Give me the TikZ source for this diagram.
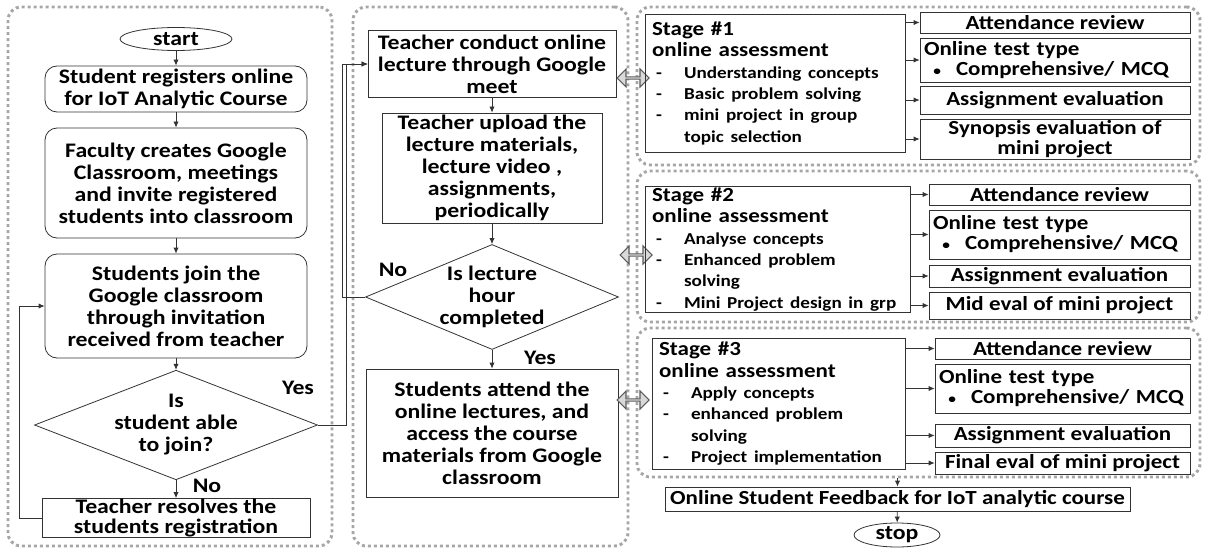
\documentclass[tikz,border=0pt]{standalone}
\usepackage{fontspec}
\setmainfont{Carlito}[FakeStretch=1.15]
\usetikzlibrary{arrows.meta, positioning, shapes.geometric, shapes.arrows, calc}
\definecolor{cline}{HTML}{333333}
\definecolor{cdot}{HTML}{A6A6A6}
\definecolor{cfill}{HTML}{D9D9D9}
\newcommand\itemfont{\fontsize{12.5}{16}\selectfont}
\newcommand\dashitem[1]{{\itemfont\makebox[24pt][l]{\hspace{3pt}-}\mbox{#1}}}
\newcommand\itemcont[1]{{\itemfont\hspace*{24pt}\mbox{#1}}}
\newcommand\bulletline[1]{\hspace*{7pt}\makebox[17pt][l]{\fontsize{10}{10}\selectfont •}\mbox{#1}}
\tikzset{
  every picture/.style={x=0.75pt, y=-0.75pt, line width=0.6pt},
  sz/.style 2 args={minimum width=#1*0.75pt, minimum height=#2*0.75pt},
  txt/.style={font=\fontsize{15.5}{16.5}\selectfont\bfseries},
  rbox/.style={draw=cline, txt, rounded corners=9pt, align=center, inner sep=0pt},
  box/.style={draw=cline, txt, align=center, inner sep=0pt},
  term/.style={draw=cline, ellipse, txt, inner sep=0pt},
  decision/.style={draw=cline, diamond, txt, align=center, inner xsep=-12pt, inner ysep=-16pt},
  stagebox/.style={draw=cline, font=\fontsize{15}{16}\selectfont\bfseries, align=left, anchor=north west, inner ysep=0pt, inner xsep=5pt},
  evalbox/.style={draw=cline, font=\fontsize{15}{15}\selectfont\bfseries, align=center, inner sep=0pt},
  testbox/.style={evalbox, align=left, inner xsep=3pt},
  panel/.style={draw=cdot, line width=2.2pt, dash pattern=on 2.2pt off 2.3pt, rounded corners=10pt},
  arr/.style={-{Latex[length=4.5pt, width=4pt]}, draw=cline, line width=0.6pt},
  twoway/.style={double arrow, draw=cline!80, fill=cfill, line width=0.8pt, double arrow head extend=3pt, inner sep=0pt},
  lbl/.style={txt},
}
\begin{document}
\begin{tikzpicture}
  \useasboundingbox (0,0) rectangle (1205,549);
  % dotted panels
  \node[panel, sz={324}{539}] (pleft) at (170,276.5) {};
  \node[panel, sz={275}{539}] (pmid) at (490.5,276.5) {};
  \node[panel, sz={563}{158}] (p1) at (918.5,86) {};
  \node[panel, sz={563}{151}] (p2) at (918.5,246.5) {};
  \node[panel, sz={563}{149}] (p3) at (918.5,402.5) {};

  % registration column
  \node[term, sz={112}{23}] (start) at (176,39) {start};
  \node[rbox, sz={262}{46}] (reg) at (176,89) {Student registers online\\for IoT Analytic Course};
  \node[rbox, sz={262}{110}] (fac) at (176,183) {Faculty creates Google\\Classroom, meetings\\and invite registered\\students into classroom};
  \node[rbox, sz={262}{104}] (join) at (176,306) {Students join the\\Google classroom\\through invitation\\received from teacher};
  \node[decision, sz={283}{106}] (able) at (176,425) {Is\\student able\\to join?};
  \node[box, sz={268}{39}, font=\fontsize{15.5}{15}\selectfont\bfseries] (fix) at (176,518) {Teacher resolves the\\students registration};
  \node[lbl] (yes1) at (298,388) {Yes};
  \node[lbl] (no1) at (207,486) {No};

  \draw[arr] (start) -- (reg);
  \draw[arr] (reg) -- (fac);
  \draw[arr] (fac) -- (join);
  \draw[arr] (join) -- (able);
  \draw[arr] (able) -- (fix);
  \draw[arr] (fix.west) -- ++(-22,0) |- (join.west);

  % lecture column
  \node[box, sz={248}{67}] (meet) at (492,64) {Teacher conduct online\\lecture through Google\\meet};
  \node[box, sz={220}{110}] (upload) at (492,168) {Teacher upload the\\lecture materials,\\lecture video ,\\assignments,\\periodically};
  \node[decision, sz={253}{105}] (hour) at (492,297) {Is lecture\\hour\\completed};
  \node[box, sz={252}{128}] (attend) at (492,433) {Students attend the\\online lectures, and\\access the course\\materials from Google\\classroom};
  \node[lbl] (no2) at (393,270) {No};
  \node[lbl] (yes2) at (540,358) {Yes};

  \draw[arr] (meet) -- (upload);
  \draw[arr] (upload) -- (hour);
  \draw[arr] (hour) -- (attend);
  \draw[arr] (hour.west) -- ++(-23,0) |- (meet.west);
  \draw[arr] (able.east) -- ++(28,0) |- (meet.west);

  % links to the stages
  \node[twoway, sz={18}{32}] (link1) at (633,78) {};
  \node[twoway, sz={18}{32}] (link2) at (636,255) {};
  \node[twoway, sz={18}{32}] (link3) at (633,400) {};

  % stage 1
  \node[stagebox, text width=185pt, minimum height=103.5pt] (s1) at (645,14) {Stage \#1\\online assessment\\\dashitem{Understanding concepts}\\\dashitem{Basic problem solving}\\\dashitem{mini project in group}\\\itemcont{topic selection}};
  \node[evalbox, sz={270}{21}] (att1) at (1055,22.5) {Attendance review};
  \node[testbox, text width=196.5pt, minimum height=33pt] (test1) at (1055,60) {Online test type\\\bulletline{Comprehensive/ MCQ}};
  \node[evalbox, sz={270}{28}] (asg1) at (1055,100) {Assignment evaluation};
  \node[evalbox, sz={270}{40}] (syn1) at (1055,139) {Synopsis evaluation of\\mini project};
  \foreach \t in {att1, test1, asg1, syn1}
    \draw[arr] (\t.west -| s1.east) -- (\t.west);

  % stage 2
  \node[stagebox, text width=188.75pt, minimum height=94.5pt] (s2) at (645,186) {Stage \#2\\online assessment\\\dashitem{Analyse concepts}\\\dashitem{Enhanced problem}\\\itemcont{solving}\\\dashitem{Mini Project design in grp}};
  \node[evalbox, sz={261}{21}] (att2) at (1059.5,194.5) {Attendance review};
  \node[testbox, text width=189.75pt, minimum height=36.75pt] (test2) at (1059.5,234.5) {Online test type\\\bulletline{Comprehensive/ MCQ}};
  \node[evalbox, sz={261}{22}] (asg2) at (1059.5,276) {Assignment evaluation};
  \node[evalbox, sz={261}{27}] (mid2) at (1059.5,305.5) {Mid eval of mini project};
  \foreach \t in {att2, test2, asg2, mid2}
    \draw[arr] (\t.west -| s2.east) -- (\t.west);

  % stage 3
  \node[stagebox, text width=179.75pt, minimum height=98.25pt] (s3) at (652,338) {Stage \#3\\online assessment\\\dashitem{Apply concepts}\\\dashitem{enhanced problem}\\\itemcont{solving}\\\dashitem{Project implementation}};
  \node[evalbox, sz={255}{21}] (att3) at (1062.5,348.5) {Attendance review};
  \node[testbox, text width=185.25pt, minimum height=36.75pt] (test3) at (1062.5,388.5) {Online test type\\\bulletline{Comprehensive/ MCQ}};
  \node[evalbox, sz={255}{23}] (asg3) at (1062.5,435.5) {Assignment evaluation};
  \node[evalbox, sz={255}{22}] (fin3) at (1062.5,463) {Final eval of mini project};
  \foreach \t in {att3, test3, asg3, fin3}
    \draw[arr] (\t.west -| s3.east) -- (\t.west);

  % feedback and end
  \node[evalbox, sz={465}{24}] (feedback) at (897.5,499) {Online Student Feedback for IoT analytic course};
  \node[term, sz={86}{24}] (stop) at (897,535) {stop};
  \draw[arr] (feedback.north |- p3.south) -- (feedback.north);
  \draw[arr] (feedback) -- (stop);
\end{tikzpicture}
\end{document}
